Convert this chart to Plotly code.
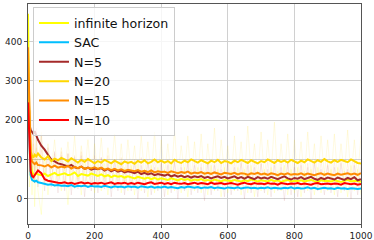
import plotly.graph_objects as go

x = [0, 4, 8, 12, 16, 20, 25, 30] + list(range(40, 1001, 10))

inf_h = [470, 200, 90, 70, 62, 60, 65, 62,
         60, 64, 58, 62, 66, 60, 63,
         65, 60, 62, 67, 58, 63, 61, 59, 64, 60,
         58, 62, 57, 60, 55, 59, 56, 58, 54, 57,
         55, 52, 56, 53, 51, 54, 50, 53, 49, 52,
         50, 48, 52, 49, 47, 51, 48, 50, 46, 49,
         47, 50, 46, 48, 45, 49, 47, 44, 48, 46,
         45, 48, 46, 44, 47, 45, 49, 46, 44, 47,
         46, 44, 48, 45, 47, 43, 46, 48, 44, 46,
         45, 47, 44, 46, 48, 45, 43, 47, 45, 46,
         44, 47, 45, 43, 46, 48, 44, 46, 45, 43]

sac = [255, 120, 60, 48, 45, 44, 46, 42,
       40, 38, 36, 37, 34, 35, 33,
       34, 32, 35, 31, 33, 32, 34, 30, 33, 31,
       32, 30, 33, 31, 29, 32, 30, 31, 29, 32,
       30, 31, 28, 32, 30, 29, 31, 28, 30, 29,
       31, 28, 30, 29, 27, 30, 28, 31, 29, 28,
       30, 27, 29, 28, 30, 27, 29, 28, 26, 29,
       28, 27, 29, 26, 28, 29, 27, 28, 26, 28,
       27, 29, 26, 28, 27, 26, 28, 27, 29, 26,
       28, 26, 27, 29, 26, 28, 25, 27, 28, 26,
       27, 25, 28, 26, 27, 25, 27, 26, 25, 26]

n5 = [240, 190, 175, 170, 165, 172, 160, 150,
      135, 125, 112, 100, 95, 90, 88,
      85, 82, 86, 80, 78, 82, 76, 79, 74, 77,
      75, 78, 72, 76, 70, 74, 69, 72, 67, 70,
      68, 65, 69, 63, 66, 62, 65, 60, 63, 61,
      59, 62, 57, 60, 56, 59, 55, 58, 54, 57,
      55, 58, 53, 56, 52, 55, 57, 53, 56, 52,
      54, 57, 52, 55, 51, 56, 53, 50, 55, 52,
      54, 51, 56, 52, 50, 54, 57, 52, 49, 53,
      51, 55, 50, 53, 56, 51, 48, 53, 50, 54,
      52, 49, 54, 51, 48, 53, 50, 55, 47, 50]

n20 = [310, 180, 120, 110, 105, 112, 108, 115,
       105, 100, 108, 96, 102, 98, 104,
       100, 95, 103, 97, 92, 99, 94, 101, 96, 90,
       96, 92, 99, 94, 90, 97, 93, 88, 95, 91,
       94, 89, 96, 92, 98, 90, 94, 100, 93, 97,
       92, 96, 90, 99, 94, 91, 97, 93, 100, 95,
       92, 98, 94, 90, 97, 93, 99, 91, 96, 94,
       90, 97, 93, 99, 95, 91, 98, 94, 90, 96,
       93, 100, 95, 91, 98, 94, 97, 92, 99, 95,
       91, 97, 93, 100, 96, 92, 98, 94, 101, 95,
       92, 98, 94, 99, 96, 93, 100, 95, 91, 90]

n15 = [385, 200, 110, 95, 90, 88, 92, 86,
       85, 82, 86, 80, 84, 79, 82,
       80, 84, 77, 81, 78, 82, 76, 79, 77, 80,
       76, 79, 74, 77, 73, 76, 72, 75, 71, 74,
       72, 70, 73, 69, 71, 68, 72, 67, 70, 68,
       69, 66, 70, 67, 65, 68, 66, 69, 64, 67,
       65, 68, 64, 66, 63, 67, 65, 62, 66, 64,
       63, 66, 62, 65, 64, 61, 65, 63, 66, 62,
       64, 61, 65, 63, 60, 64, 62, 65, 61, 63,
       62, 65, 61, 64, 62, 60, 63, 65, 61, 64,
       62, 60, 64, 61, 63, 65, 62, 64, 61, 65]

n10 = [245, 160, 70, 58, 55, 60, 68, 72,
       65, 50, 46, 44, 42, 41, 40,
       42, 39, 41, 38, 40, 42, 39, 41, 38, 40,
       39, 41, 38, 40, 42, 38, 40, 39, 41, 38,
       40, 38, 41, 39, 37, 40, 42, 38, 39, 41,
       38, 40, 37, 41, 39, 38, 40, 37, 39, 41,
       38, 40, 39, 37, 41, 38, 39, 40, 37, 39,
       40, 38, 36, 39, 41, 38, 37, 40, 38, 39,
       37, 40, 38, 39, 36, 40, 38, 37, 39, 38,
       40, 37, 39, 38, 36, 39, 40, 37, 38, 39,
       37, 39, 38, 36, 40, 38, 37, 39, 36, 38]

# faint raw (unsmoothed) runs
n20_raw = [310, 150, 190, 80, 160, 70, 150, 90,
           170, 60, 140, 75, 150, 55, 130,
           70, 145, 60, 160, 50, 135, 65, 150, 55, 140,
           60, 155, 50, 130, 70, 165, 55, 140, 45, 150,
           65, 135, 50, 160, 60, 145, 55, 170, 45, 150,
           60, 140, 50, 175, 55, 135, 65, 160, 50, 145,
           55, 165, 45, 140, 60, 180, 50, 150, 65, 135,
           50, 160, 55, 145, 45, 185, 60, 140, 55, 170,
           50, 150, 60, 195, 45, 140, 55, 165, 50, 150,
           60, 145, 50, 170, 55, 140, 45, 160, 60, 150,
           50, 165, 55, 140, 60, 175, 50, 150, 55, 160]

n5_raw = [240, 100, 225, 60, 200, 40, 180, 30,
          160, 20, 130, 30, 120, 15, 110,
          20, 115, 10, 105, 25, 110, 5, 100, 20, 95,
          15, 105, 25, 90, 5, 100, 20, 95, 10, 90,
          20, 95, 0, 85, 15, 100, 10, 80, 20, 90,
          5, 85, 15, 95, 0, 80, 20, 90, 10, 85,
          15, 80, -5, 90, 10, 85, 20, 75, 5, 90,
          10, 80, 20, 95, 0, 85, 15, 80, 5, 90,
          15, 75, 5, 85, 20, 80, -5, 90, 10, 80,
          5, 85, 15, 80, 0, 90, 20, 75, 10, 85,
          15, 80, 5, 90, 20, 75, 0, 85, 10, 80]

inf_raw = [470, 30, 150, 10, 120, -20, 100, 20,
           -40, 110, 10, 95, 30, 100, 20,
           90, -15, 105, 25, 95, 10, 100, 30, 85, 15,
           95, 20, 90, 10, 85, 25, 95, 15, 80, 20,
           85, 10, 90, 20, 75, 5, 85, 15, 80, 25,
           75, 10, 85, 20, 70, 15, 80, 5, 75, 20,
           80, 15, 70, 10, 85, 20, 75, 5, 80, 15,
           70, 20, 80, 10, 75, 15, 85, 5, 70, 20,
           75, 10, 80, 15, 70, 20, 85, 10, 75, 15,
           80, 5, 70, 20, 75, 10, 80, 15, 70, 20,
           75, 10, 80, 15, 70, 5, 85, 20, 75, 10]

n15_raw = [385, 60, 180, 50, 140, 40, 130, 45,
           125, 40, 120, 45, 115, 35, 120,
           40, 115, 35, 110, 45, 120, 30, 105, 40, 110,
           35, 105, 40, 110, 30, 100, 45, 105, 35, 100,
           40, 100, 30, 105, 35, 95, 40, 100, 30, 95,
           35, 100, 30, 95, 40, 90, 35, 100, 30, 95,
           35, 90, 30, 100, 40, 95, 30, 90, 35, 95,
           30, 95, 35, 90, 40, 100, 30, 95, 35, 90,
           35, 95, 30, 100, 40, 90, 35, 95, 30, 90,
           40, 95, 30, 90, 35, 100, 30, 95, 40, 90,
           35, 95, 30, 100, 35, 90, 40, 95, 30, 95]

names = ["infinite horizon", "SAC", "N=5", "N=20", "N=15", "N=10"]
colors = ["#FFFF00", "#00BFFF", "#A52A2A", "#FFD700", "#FF8C00", "#FF0000"]
means = [inf_h, sac, n5, n20, n15, n10]

raws = [(inf_raw, "rgba(255,255,0,0.15)"),
        (n5_raw, "rgba(165,42,42,0.09)"),
        (n15_raw, "rgba(255,140,0,0.10)"),
        (n20_raw, "rgba(255,215,0,0.12)")]

fig = go.Figure()
for r, c in raws:
    fig.add_trace(go.Scatter(x=x, y=r, mode="lines", line=dict(color=c, width=1),
                             showlegend=False, hoverinfo="skip"))

for i, (nm, c, m) in enumerate(zip(names, colors, means)):
    fig.add_trace(go.Scatter(x=x, y=m, mode="lines", name=nm,
                             line=dict(color=c, width=2)))

axis_common = dict(showgrid=True, gridcolor="#d0d0d0", gridwidth=1,
                   showline=True, linecolor="#555555", linewidth=1, mirror=True,
                   ticks="outside", ticklen=3, tickcolor="#555555",
                   tickfont=dict(family="DejaVu Sans", size=9, color="#222222"),
                   zeroline=False, automargin=False)

fig.update_xaxes(range=[0, 1000], tickvals=[0, 200, 400, 600, 800, 1000], **axis_common)
fig.update_yaxes(range=[-64, 495], tickvals=[0, 100, 200, 300, 400], **axis_common)

fig.update_layout(
    width=374, height=240,
    margin=dict(l=28, r=13, t=4, b=16),
    paper_bgcolor="white", plot_bgcolor="white",
    legend=dict(x=0.015, y=0.985, xanchor="left", yanchor="top",
                bgcolor="rgba(255,255,255,0.8)", bordercolor="#cccccc", borderwidth=1,
                font=dict(family="DejaVu Sans", size=12.6, color="#111111"),
                tracegroupgap=0),
    showlegend=True,
)

fig.write_html("out.html", config={"displayModeBar": False},
               post_script="document.body.style.margin='0';")
